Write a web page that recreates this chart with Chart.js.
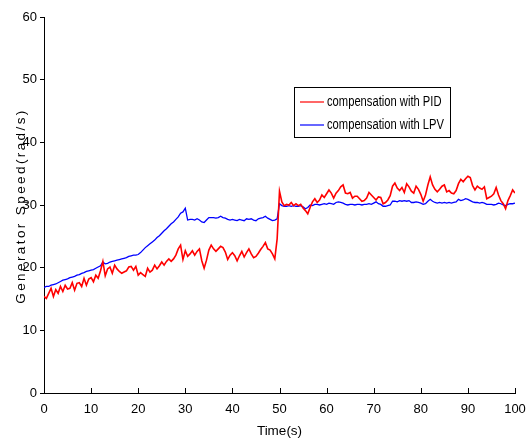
<!DOCTYPE html>
<html>
<head>
<meta charset="utf-8">
<script src="https://cdn.jsdelivr.net/npm/chart.js@4/dist/chart.umd.min.js"></script>
<style>
  html, body { margin: 0; padding: 0; background: #fff; }
  #wrap { width: 530px; height: 439px; }
</style>
</head>
<body>
<div id="wrap"><canvas id="speedChart" width="530" height="439"></canvas></div>
<script>
// 时间轴 (s)，每 0.5 s 一个点
const timeSec = [
  0,0.5,1,1.5,2,2.5,3,3.5,4,4.5,5,5.5,6,6.5,7,7.5,8,8.5,9,9.5,
  10,10.5,11,11.5,12,12.5,13,13.5,14,14.5,15,15.5,16,16.5,17,17.5,18,18.5,19,19.5,
  20,20.5,21,21.5,22,22.5,23,23.5,24,24.5,25,25.5,26,26.5,27,27.5,28,28.5,29,29.5,
  30,30.5,31,31.5,32,32.5,33,33.5,34,34.5,35,35.5,36,36.5,37,37.5,38,38.5,39,39.5,
  40,40.5,41,41.5,42,42.5,43,43.5,44,44.5,45,45.5,46,46.5,47,47.5,48,48.5,49,49.5,
  50,50.5,51,51.5,52,52.5,53,53.5,54,54.5,55,55.5,56,56.5,57,57.5,58,58.5,59,59.5,
  60,60.5,61,61.5,62,62.5,63,63.5,64,64.5,65,65.5,66,66.5,67,67.5,68,68.5,69,69.5,
  70,70.5,71,71.5,72,72.5,73,73.5,74,74.5,75,75.5,76,76.5,77,77.5,78,78.5,79,79.5,
  80,80.5,81,81.5,82,82.5,83,83.5,84,84.5,85,85.5,86,86.5,87,87.5,88,88.5,89,89.5,
  90,90.5,91,91.5,92,92.5,93,93.5,94,94.5,95,95.5,96,96.5,97,97.5,98,98.5,99,99.5,
  100
];

// PID 补偿的发电机转速 (rad/s)
const speedPID = [
  15.4,15.1,15.9,16.7,15.4,16.5,15.9,17.0,16.2,17.2,16.6,16.7,17.6,16.4,17.5,17.6,17.0,18.3,17.2,18.2,
  18.4,17.75,18.8,18.3,19.5,21.0,18.7,19.8,20.1,19.1,20.4,19.8,19.4,19.1,19.3,19.5,20.1,20.2,19.6,20.2,
  18.8,19.2,18.9,18.6,19.9,19.3,19.6,20.4,19.8,20.3,20.9,20.4,21.0,21.4,21.0,21.4,22.0,23.0,23.6,21.3,
  22.7,21.8,22.2,22.7,22.0,22.6,23.0,21.1,19.9,21.2,22.8,23.6,23.0,22.6,23.0,23.4,23.2,22.5,21.3,22.0,
  22.4,21.9,21.1,21.9,22.6,21.7,22.4,23.0,22.2,21.6,21.8,22.3,22.9,23.4,24.0,23.0,22.8,22.2,21.4,24.6,
  32.2,30.5,29.9,30.1,30.0,30.4,29.9,30.2,29.9,30.1,29.5,29.1,28.6,29.6,30.5,31.0,30.4,30.8,31.6,31.2,
  31.8,32.4,31.9,31.1,31.9,32.3,32.9,33.2,31.9,31.8,32.0,31.1,31.4,31.4,31.0,30.6,30.7,31.1,32.0,31.6,
  31.2,30.8,31.3,31.2,30.2,30.4,30.8,31.5,33.0,33.5,32.7,32.3,32.8,32.0,33.4,32.9,32.2,31.9,33.0,32.5,
  31.7,30.6,31.6,33.2,34.5,33.2,32.5,32.1,32.5,33.0,33.2,32.1,32.3,31.9,31.8,32.3,33.4,34.1,33.7,34.2,
  34.6,34.4,33.1,32.4,33.0,32.7,32.5,32.9,31.0,31.2,31.4,31.8,32.8,31.6,30.7,30.2,29.4,30.7,31.5,32.4,
  31.9
];

// LPV 补偿的发电机转速 (rad/s)
const speedLPV = [
  16.85,17.0,17.0,17.2,17.3,17.4,17.6,17.8,18.0,18.1,18.2,18.4,18.5,18.6,18.8,18.9,19.1,19.2,19.4,19.5,
  19.6,19.7,19.9,20.1,20.3,20.9,20.6,20.7,20.9,21.0,21.1,21.2,21.3,21.4,21.5,21.6,21.8,21.9,22.0,22.0,
  22.1,22.4,22.8,23.2,23.5,23.8,24.1,24.4,24.8,25.1,25.5,25.9,26.2,26.6,27.0,27.3,27.7,28.1,28.7,28.9,
  29.5,27.6,27.7,27.7,27.6,27.8,27.6,27.3,27.2,27.6,28.0,28.0,28.0,27.9,28.0,28.2,28.0,27.9,27.7,27.6,
  27.7,27.6,27.5,27.7,27.6,27.5,27.8,27.7,27.8,27.6,27.5,27.8,27.9,28.0,28.2,27.9,27.7,27.5,27.6,27.8,
  30.2,29.9,29.8,29.8,29.9,29.8,29.9,29.8,29.8,29.9,29.7,29.4,29.6,30.0,29.9,30.1,30.1,30.0,30.1,30.2,
  30.1,30.3,30.2,30.1,30.4,30.5,30.4,30.3,30.1,30.0,30.1,30.1,30.0,30.1,30.1,30.0,30.1,30.1,30.2,30.1,
  30.3,30.5,30.2,30.1,29.8,29.8,29.9,30.0,30.6,30.6,30.5,30.7,30.6,30.7,30.6,30.7,30.4,30.4,30.5,30.4,
  30.3,30.1,30.2,30.6,30.9,30.6,30.4,30.3,30.4,30.3,30.4,30.3,30.4,30.3,30.4,30.5,30.9,30.7,30.8,31.0,
  30.9,30.7,30.5,30.4,30.4,30.3,30.4,30.3,30.1,30.1,30.1,30.0,30.1,30.3,30.2,30.0,29.9,30.1,30.2,30.2,
  30.3
];

const seriesNames = ['compensation with PID', 'compensation with LPV'];
const xTitle = 'Time(s)';
const yTitle = 'Generator Speed(rad/s)';

const FONT = "'Liberation Sans', Arial, sans-serif";

function toPoints(values) {
  return values.map((v, i) => ({ x: timeSec[i], y: v }));
}

// 横轴刻度朝内，手动画
const innerTicks = {
  id: 'innerTicks',
  afterDatasetsDraw(chart) {
    const { ctx, chartArea, scales } = chart;
    ctx.save();
    ctx.strokeStyle = '#000';
    ctx.lineWidth = 1;
    ctx.beginPath();
    for (let v = 0; v <= 100; v += 10) {
      const px = Math.round(scales.x.getPixelForValue(v)) + 0.5;
      ctx.moveTo(px, chartArea.bottom);
      ctx.lineTo(px, chartArea.bottom - 5);
    }
    ctx.stroke();
    ctx.restore();
  }
};

// 纵轴标题（字母间距较大）
const yTitlePlugin = {
  id: 'yTitlePlugin',
  afterDraw(chart) {
    const { ctx, chartArea } = chart;
    ctx.save();
    ctx.translate(21, (chartArea.top + chartArea.bottom) / 2 + 1);
    ctx.rotate(-Math.PI / 2);
    ctx.font = '13.5px ' + FONT;
    ctx.letterSpacing = '2.4px';
    ctx.fillStyle = '#000';
    ctx.textAlign = 'center';
    ctx.textBaseline = 'middle';
    ctx.fillText(yTitle, 0, 0);
    ctx.restore();
  }
};

// 图例画在绘图区内
const boxLegend = {
  id: 'boxLegend',
  afterDraw(chart) {
    const { ctx } = chart;
    const x0 = 294, y0 = 87, w = 156, h = 50;
    ctx.save();
    ctx.fillStyle = '#fff';
    ctx.fillRect(x0, y0, w, h);
    ctx.strokeStyle = '#000';
    ctx.lineWidth = 1;
    ctx.strokeRect(x0 + 0.5, y0 + 0.5, w, h);
    chart.data.datasets.forEach((ds, i) => {
      const yy = y0 + 15 + i * 23;
      ctx.strokeStyle = ds.borderColor;
      ctx.lineWidth = 1.2;
      ctx.beginPath();
      ctx.moveTo(x0 + 6, yy);
      ctx.lineTo(x0 + 30, yy);
      ctx.stroke();
      ctx.save();
      ctx.translate(x0 + 33, yy);
      ctx.scale(0.8, 1);
      ctx.font = '14px ' + FONT;
      ctx.fillStyle = '#000';
      ctx.textBaseline = 'middle';
      ctx.fillText(ds.label, 0, 0);
      ctx.restore();
    });
    ctx.restore();
  }
};

const chartCtx = document.getElementById('speedChart').getContext('2d');
const speedChart = new Chart(chartCtx, {
  type: 'line',
  data: {
    datasets: [{
      label: seriesNames[0],
      data: toPoints(speedPID),
      borderColor: '#ff0000',
      borderWidth: 1.6,
      pointRadius: 0,
      tension: 0,
      fill: false
    }, {
      label: seriesNames[1],
      data: toPoints(speedLPV),
      borderColor: '#0000ff',
      borderWidth: 1.3,
      pointRadius: 0,
      tension: 0,
      fill: false
    }]
  },
  options: {
    responsive: false,
    animation: false,
    devicePixelRatio: 1,
    layout: { padding: { top: 17, right: 15, left: 0, bottom: 0 } },
    scales: {
      x: {
        type: 'linear',
        min: 0,
        max: 100,
        afterFit(scale) { scale.height = 46; },
        border: { display: true, color: '#000', width: 1 },
        grid: { display: false },
        ticks: {
          stepSize: 10,
          color: '#000',
          padding: 1,
          maxRotation: 0,
          font: { family: FONT, size: 13 }
        },
        title: {
          display: true,
          text: xTitle,
          color: '#000',
          padding: { top: 2, bottom: 0 },
          font: { family: FONT, size: 13.5 }
        }
      },
      y: {
        min: 0,
        max: 60,
        afterFit(scale) { scale.width = 44; },
        border: { display: true, color: '#000', width: 1 },
        grid: { display: true, drawOnChartArea: false, tickLength: 4, color: '#000' },
        ticks: {
          stepSize: 10,
          color: '#000',
          padding: 3,
          font: { family: FONT, size: 13 }
        }
      }
    },
    plugins: {
      legend: { display: false },
      tooltip: { enabled: false }
    }
  },
  plugins: [innerTicks, yTitlePlugin, boxLegend]
});
</script>
</body>
</html>
